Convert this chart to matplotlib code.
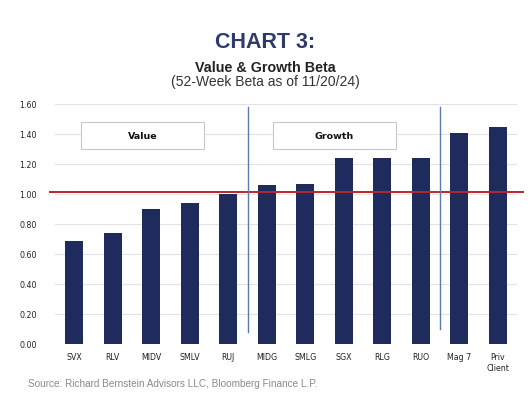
import matplotlib.pyplot as plt
from matplotlib.patches import Rectangle

# Data
tickers = ['SVX', 'RLV', 'MIDV', 'SMLV', 'RUJ', 'MIDG', 'SMLG', 'SGX',
           'RLG', 'RUO', 'Mag 7', 'Priv\nClient']
beta = [0.69, 0.74, 0.90, 0.94, 1.00, 1.06, 1.07, 1.24, 1.24, 1.24, 1.41, 1.45]
yticks = [0.0, 0.2, 0.4, 0.6, 0.8, 1.0, 1.2, 1.4, 1.6]
market_beta = 1.015

navy = '#1f2b5c'
fig = plt.figure(figsize=(5.3, 4.06), dpi=100)
fig.patch.set_facecolor('white')

ax = fig.add_axes([55 / 530, 61 / 406, 462 / 530, 240 / 406])
x = range(len(tickers))
ax.bar(x, beta, width=0.47, color=navy, zorder=3)

ax.set_xlim(-0.5, len(tickers) - 0.5)
ax.set_ylim(0, 1.6)
ax.set_yticks(yticks)
ax.set_yticklabels([f'{v:.2f}' for v in yticks])
ax.set_xticks(list(x))
ax.set_xticklabels(tickers)
ax.tick_params(axis='both', length=0, labelsize=5.7, colors='#222222')
ax.tick_params(axis='y', pad=13)
ax.tick_params(axis='x', pad=6)
for s in ax.spines.values():
    s.set_visible(False)
ax.grid(axis='y', color='#e3e3e3', linewidth=0.8, zorder=0)

# market beta line
ax.axhline(market_beta, xmin=-0.011, xmax=1.013, color='#b5272d',
           linewidth=1.4, zorder=4, clip_on=False)

# group separators
for xs, y0 in [(4.5, 0.08), (9.5, 0.1)]:
    ax.plot([xs, xs], [y0, 1.58], color='#5a7bb0', linewidth=1.0, zorder=5,
            clip_on=False)

# group label boxes
for label, x0 in [('Value', 0.18), ('Growth', 5.15)]:
    ax.add_patch(Rectangle((x0, 1.30), 3.2, 0.18, facecolor='white',
                           edgecolor='#c8c8c8', linewidth=0.8, zorder=6))
    ax.text(x0 + 1.6, 1.39, label, ha='center', va='center', fontsize=6.8,
            fontweight='bold', color='#111111', zorder=7)

# titles
fig.text(0.5, 0.895, 'CHART 3:', ha='center', va='center', fontsize=15.5,
         fontweight='bold', color='#2d3a6b', family='Liberation Sans')
fig.text(0.5, 0.833, 'Value & Growth Beta', ha='center', va='center',
         fontsize=10.3, fontweight='bold', color='#222222',
         family='Liberation Sans')
fig.text(0.5, 0.797, '(52-Week Beta as of 11/20/24)', ha='center',
         va='center', fontsize=10, color='#333333',
         family='Liberation Sans')
fig.text(28 / 530, 1 - 384 / 406, 'Source: Richard Bernstein Advisors LLC, Bloomberg Finance L.P.',
         ha='left', va='center', fontsize=7.2, color='#8a8a8a',
         family='Liberation Sans')

fig.savefig('out.png', dpi=100)
